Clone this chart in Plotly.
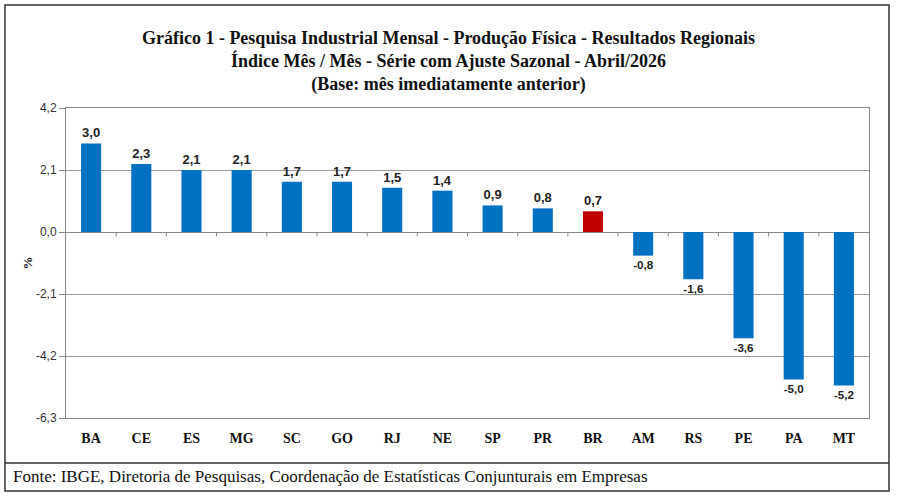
import plotly.graph_objects as go

categories = ["BA", "CE", "ES", "MG", "SC", "GO", "RJ", "NE", "SP", "PR", "BR", "AM", "RS", "PE", "PA", "MT"]
values = [3.0, 2.3, 2.1, 2.1, 1.7, 1.7, 1.5, 1.4, 0.9, 0.8, 0.7, -0.8, -1.6, -3.6, -5.0, -5.2]
y_ticks = [-6.3, -4.2, -2.1, 0.0, 2.1, 4.2]
y_tick_labels = ["-6,3", "-4,2", "-2,1", "0,0", "2,1", "4,2"]
highlight = "BR"

BLUE = "#0070C0"
RED = "#C00000"
colors = [RED if c == highlight else BLUE for c in categories]

serif = "Liberation Serif, DejaVu Serif, serif"

fig = go.Figure()
fig.add_trace(go.Bar(
    x=categories, y=values,
    marker=dict(color=colors, line=dict(width=0)),
    text=[f"{v:.1f}".replace(".", ",") for v in values], texttemplate="%{text}", textposition="outside",
    textfont=dict(family="Liberation Sans, Arial", size=13, color="#222222", weight="bold"),
    cliponaxis=False,
))

shapes = []
for i in range(len(categories) - 1):
    shapes.append(dict(type="line", xref="x", yref="y", x0=i + 0.5, x1=i + 0.5, y0=0, y1=-0.15,
                       line=dict(color="#888888", width=1)))
# outer frame
shapes.append(dict(type="rect", xref="paper", yref="paper", x0=-0.076, x1=1.0249, y0=-0.2355, y1=1.332,
                   line=dict(color="#333333", width=1.5), layer="below"))
# source separator line
shapes.append(dict(type="line", xref="paper", yref="paper", x0=-0.076, x1=1.0249, y0=-0.145, y1=-0.145,
                   line=dict(color="#333333", width=1.5)))

fig.update_layout(
    width=897, height=496,
    margin=dict(l=66, r=28, t=108, b=78),
    paper_bgcolor="white", plot_bgcolor="white",
    separators=",.",
    showlegend=False,
    bargap=0.6,
    shapes=shapes,
    title=dict(
        text="Gráfico 1 - Pesquisa Industrial Mensal - Produção Física - Resultados Regionais<br>"
             "Índice Mês / Mês - Série com Ajuste Sazonal - Abril/2026<br>"
             "(Base: mês imediatamente anterior)",
        x=0.5, xanchor="center", y=0.912, yanchor="top",
        font=dict(family=serif, size=18, color="#111111", weight="bold"),
    ),
    annotations=[dict(
        text="Fonte: IBGE, Diretoria de Pesquisas, Coordenação de Estatísticas Conjunturais em Empresas",
        xref="paper", yref="paper", x=-0.069, y=-0.19, xanchor="left", yanchor="middle",
        showarrow=False, font=dict(family=serif, size=17, color="#111111"),
    )],
)
fig.update_xaxes(
    showline=True, mirror=True, linecolor="#888888", linewidth=1,
    tickfont=dict(family=serif, size=14, color="#111111", weight="bold"),
    ticks="", showgrid=False, ticklabelstandoff=7,
)
fig.update_yaxes(
    range=[-6.3, 4.2], tickvals=y_ticks, ticktext=y_tick_labels,
    showline=True, mirror=True, linecolor="#888888", linewidth=1,
    showgrid=True, gridcolor="#999999", gridwidth=1,
    zeroline=True, zerolinecolor="#888888", zerolinewidth=1,
    ticks="outside", ticklen=6, tickcolor="#888888",
    tickfont=dict(family="Liberation Sans, Arial", size=12, color="#333333"),
    title=dict(text="%", standoff=0, font=dict(family=serif, size=13, color="#111111", weight="bold")),
)

fig.write_html("out.html")
